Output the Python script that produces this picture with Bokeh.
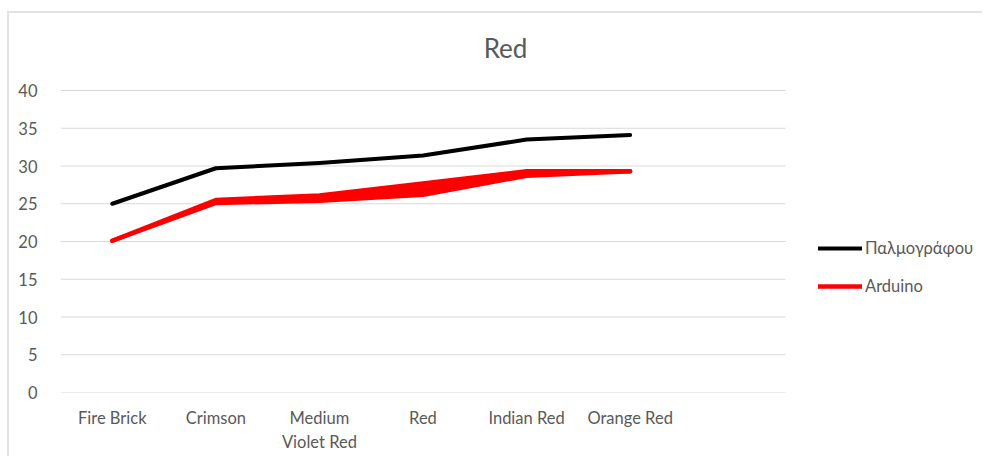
from bokeh.plotting import figure
from bokeh.models import FixedTicker, Legend, LegendItem, Range1d, Label
from bokeh.embed import file_html
from bokeh.resources import INLINE

categories = ["Fire Brick", "Crimson", "Medium\nViolet Red", "Red", "Indian Red", "Orange Red"]
palmografou = [25.0, 29.7, 30.4, 31.4, 33.5, 34.1]
arduino_low = [20.1, 25.1, 25.4, 26.2, 28.7, 29.3]
arduino_high = [20.1, 25.5, 26.1, 27.7, 29.3, 29.3]
y_ticks = [0, 5, 10, 15, 20, 25, 30, 35, 40]
title_text = "Red"
series_names = ["Παλμογράφου", "Arduino"]

TXT = "#595959"
FONT = "Lato"

# layout (pixels)
W, H = 975, 445
LEFT, BOTTOM = 51, 66
frame_w = W - LEFT
frame_h = H - BOTTOM
n_slots = len(categories) + 1          # one empty slot after the last category
slot_px = 725 / n_slots
y_px = 302 / 40                         # pixels per unit
x_index = list(range(len(categories)))

p = figure(width=W, height=H, output_backend="svg", toolbar_location=None,
           x_range=Range1d(-0.5, -0.5 + frame_w / slot_px),
           y_range=Range1d(0, frame_h / y_px),
           min_border_left=LEFT, min_border_right=0,
           min_border_top=0, min_border_bottom=BOTTOM)

p.styles = {"margin-left": "7px", "margin-top": "11px",
            "border-left": "2px solid #e2e2e2", "border-top": "2px solid #e2e2e2"}

p.outline_line_color = None
p.xgrid.grid_line_color = None
p.ygrid.grid_line_color = None

# horizontal gridlines spanning only the category slots
p.segment(x0=-0.5, x1=n_slots - 0.5, y0=y_ticks, y1=y_ticks,
          line_color="#d9d9d9", line_width=1)

p.yaxis.ticker = FixedTicker(ticks=y_ticks)
p.xaxis.ticker = FixedTicker(ticks=x_index)
p.xaxis.major_label_overrides = {i: c for i, c in zip(x_index, categories)}
for ax in (p.xaxis[0], p.yaxis[0]):
    ax.axis_line_color = None
    ax.major_tick_line_color = None
    ax.minor_tick_line_color = None
    ax.major_label_text_font = FONT
    ax.major_label_text_font_size = "16.5px"
    ax.major_label_text_color = TXT
p.yaxis.major_label_standoff = 17
p.xaxis.major_label_standoff = 9
p.xaxis.major_label_text_line_height = 1.2

r_black = p.line(x_index, palmografou, line_color="black", line_width=4,
                 line_join="round", line_cap="round")
p.varea(x=x_index, y1=arduino_low, y2=arduino_high, fill_color="#ff0000")
r_red = p.line(x_index, arduino_low, line_color="#ff0000", line_width=4.5,
               line_join="round", line_cap="round")
p.line(x_index, arduino_high, line_color="#ff0000", line_width=4.5,
       line_join="round", line_cap="round")

title = Label(x=(505 - 60) / slot_px - 0.5, y=(392 - 47) / y_px, text=title_text,
              text_align="center", text_baseline="middle", text_font=FONT,
              text_font_size="26px", text_color=TXT)
p.add_layout(title)

legend = Legend(items=[LegendItem(label=series_names[0], renderers=[r_black]),
                       LegendItem(label=series_names[1], renderers=[r_red])],
                location=(758, 96), border_line_color=None, background_fill_alpha=0,
                padding=0, margin=0, spacing=18, label_standoff=3,
                glyph_width=44, glyph_height=20, label_height=20,
                label_text_font=FONT, label_text_font_size="16.5px", label_text_color=TXT)
p.add_layout(legend)

open("out.html", "w").write(file_html(p, INLINE))
